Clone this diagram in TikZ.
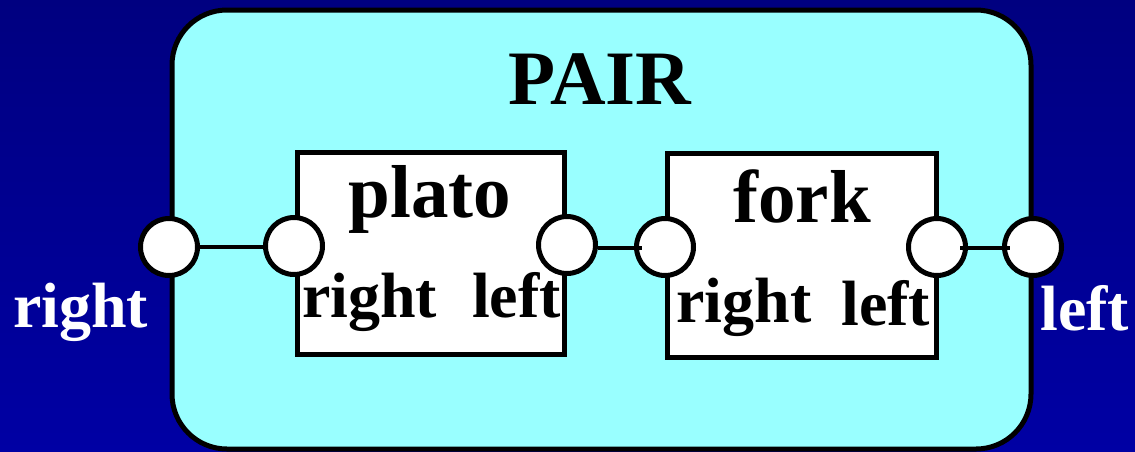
\documentclass[tikz,border=0pt]{standalone}
\usepackage{fontspec}
\setmainfont{Liberation Serif}
\definecolor{bgtop}{RGB}{0,0,128}
\definecolor{bgbot}{RGB}{0,0,164}
\definecolor{pairfill}{RGB}{153,255,255}
\tikzset{
  pairbox/.style={draw=black, line width=5pt, fill=pairfill, rounded corners=55pt},
  compbox/.style={draw=black, line width=5pt, fill=white},
  port/.style={circle, draw=black, line width=5pt, fill=white, minimum size=57pt, inner sep=0pt},
  wire/.style={draw=black, line width=4.5pt},
  bigtxt/.style={inner sep=0pt, anchor=base, font=\fontsize{75}{80}\selectfont\bfseries},
  lbltxt/.style={inner sep=0pt, anchor=base west, font=\fontsize{64}{68}\selectfont\bfseries},
}
\begin{document}
\begin{tikzpicture}[x=1pt,y=-1pt]
\useasboundingbox (0,0) rectangle (1135,451);
\shade[top color=bgtop, bottom color=bgbot] (0,0) rectangle (1135,451);
% outer PAIR box
\path[pairbox] (172,10) rectangle (1031,449);
\node[bigtxt, font=\fontsize{77}{80}\selectfont\bfseries] (pair) at (600,104) {PAIR};
% components
\path[compbox] (297,152) rectangle (564,354);
\path[compbox] (667,153) rectangle (936,357);
\node[bigtxt] (plato) at (430,217) {plato};
\node[bigtxt] (fork) at (802,222) {fork};
\node[lbltxt] (platoright) at (302,317) {right};
\node[lbltxt] (platoleft) at (472,317) {left};
\node[lbltxt] (forkright) at (676,322) {right};
\node[lbltxt] (forkleft) at (841,325) {left};
% outer labels
\node[lbltxt, text=white] (outright) at (13,327) {right};
\node[lbltxt, text=white] (outleft) at (1040,330) {left};
% ports
\node[port] (pr) at (169,247) {};
\node[port] (p1) at (294,246) {};
\node[port] (p2) at (567,245) {};
\node[port] (p3) at (665,247) {};
\node[port] (p4) at (937,247) {};
\node[port] (pl) at (1033,247) {};
% wires
\draw[wire] (pr.east |- 0,247) -- (p1.west |- 0,247);
\draw[wire, shorten >=-8pt] (p2.east |- 0,248) -- (p3.west |- 0,248);
\draw[wire, shorten <=-8pt, shorten >=-8pt] (p4.east |- 0,248) -- (pl.west |- 0,248);
\end{tikzpicture}
\end{document}
